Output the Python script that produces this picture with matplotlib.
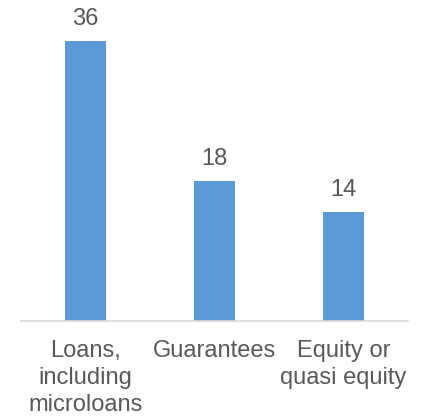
import matplotlib.pyplot as plt

# Chart data
categories = ['Loans,\nincluding\nmicroloans', 'Guarantees', 'Equity or\nquasi equity']
values = [36, 18, 14]

plt.rcParams['font.family'] = ['Liberation Sans', 'DejaVu Sans']
text_color = '#595959'

fig = plt.figure(figsize=(4.29, 4.18), dpi=100)
ax = fig.add_axes([21 / 429, 97 / 418, 387 / 429, 311 / 418])

bars = ax.bar(range(len(values)), values, width=0.32, color='#5B9BD5')
ax.set_xlim(-0.5, len(values) - 0.5)
ax.set_ylim(0, 40)

# Value labels above bars
for bar, v in zip(bars, values):
    ax.annotate(str(v), (bar.get_x() + bar.get_width() / 2, bar.get_height()),
                xytext=(0, 8), textcoords='offset points',
                ha='center', va='bottom', fontsize=17, color=text_color)

ax.set_xticks(range(len(values)))
ax.set_xticklabels(categories, fontsize=17, color=text_color, linespacing=1.28)
ax.tick_params(axis='x', length=0, pad=14)
ax.set_yticks([])

for side in ['top', 'right', 'left']:
    ax.spines[side].set_visible(False)
ax.spines['bottom'].set_color('#D9D9D9')
ax.spines['bottom'].set_linewidth(1.2)

fig.savefig('out.png', dpi=100)
